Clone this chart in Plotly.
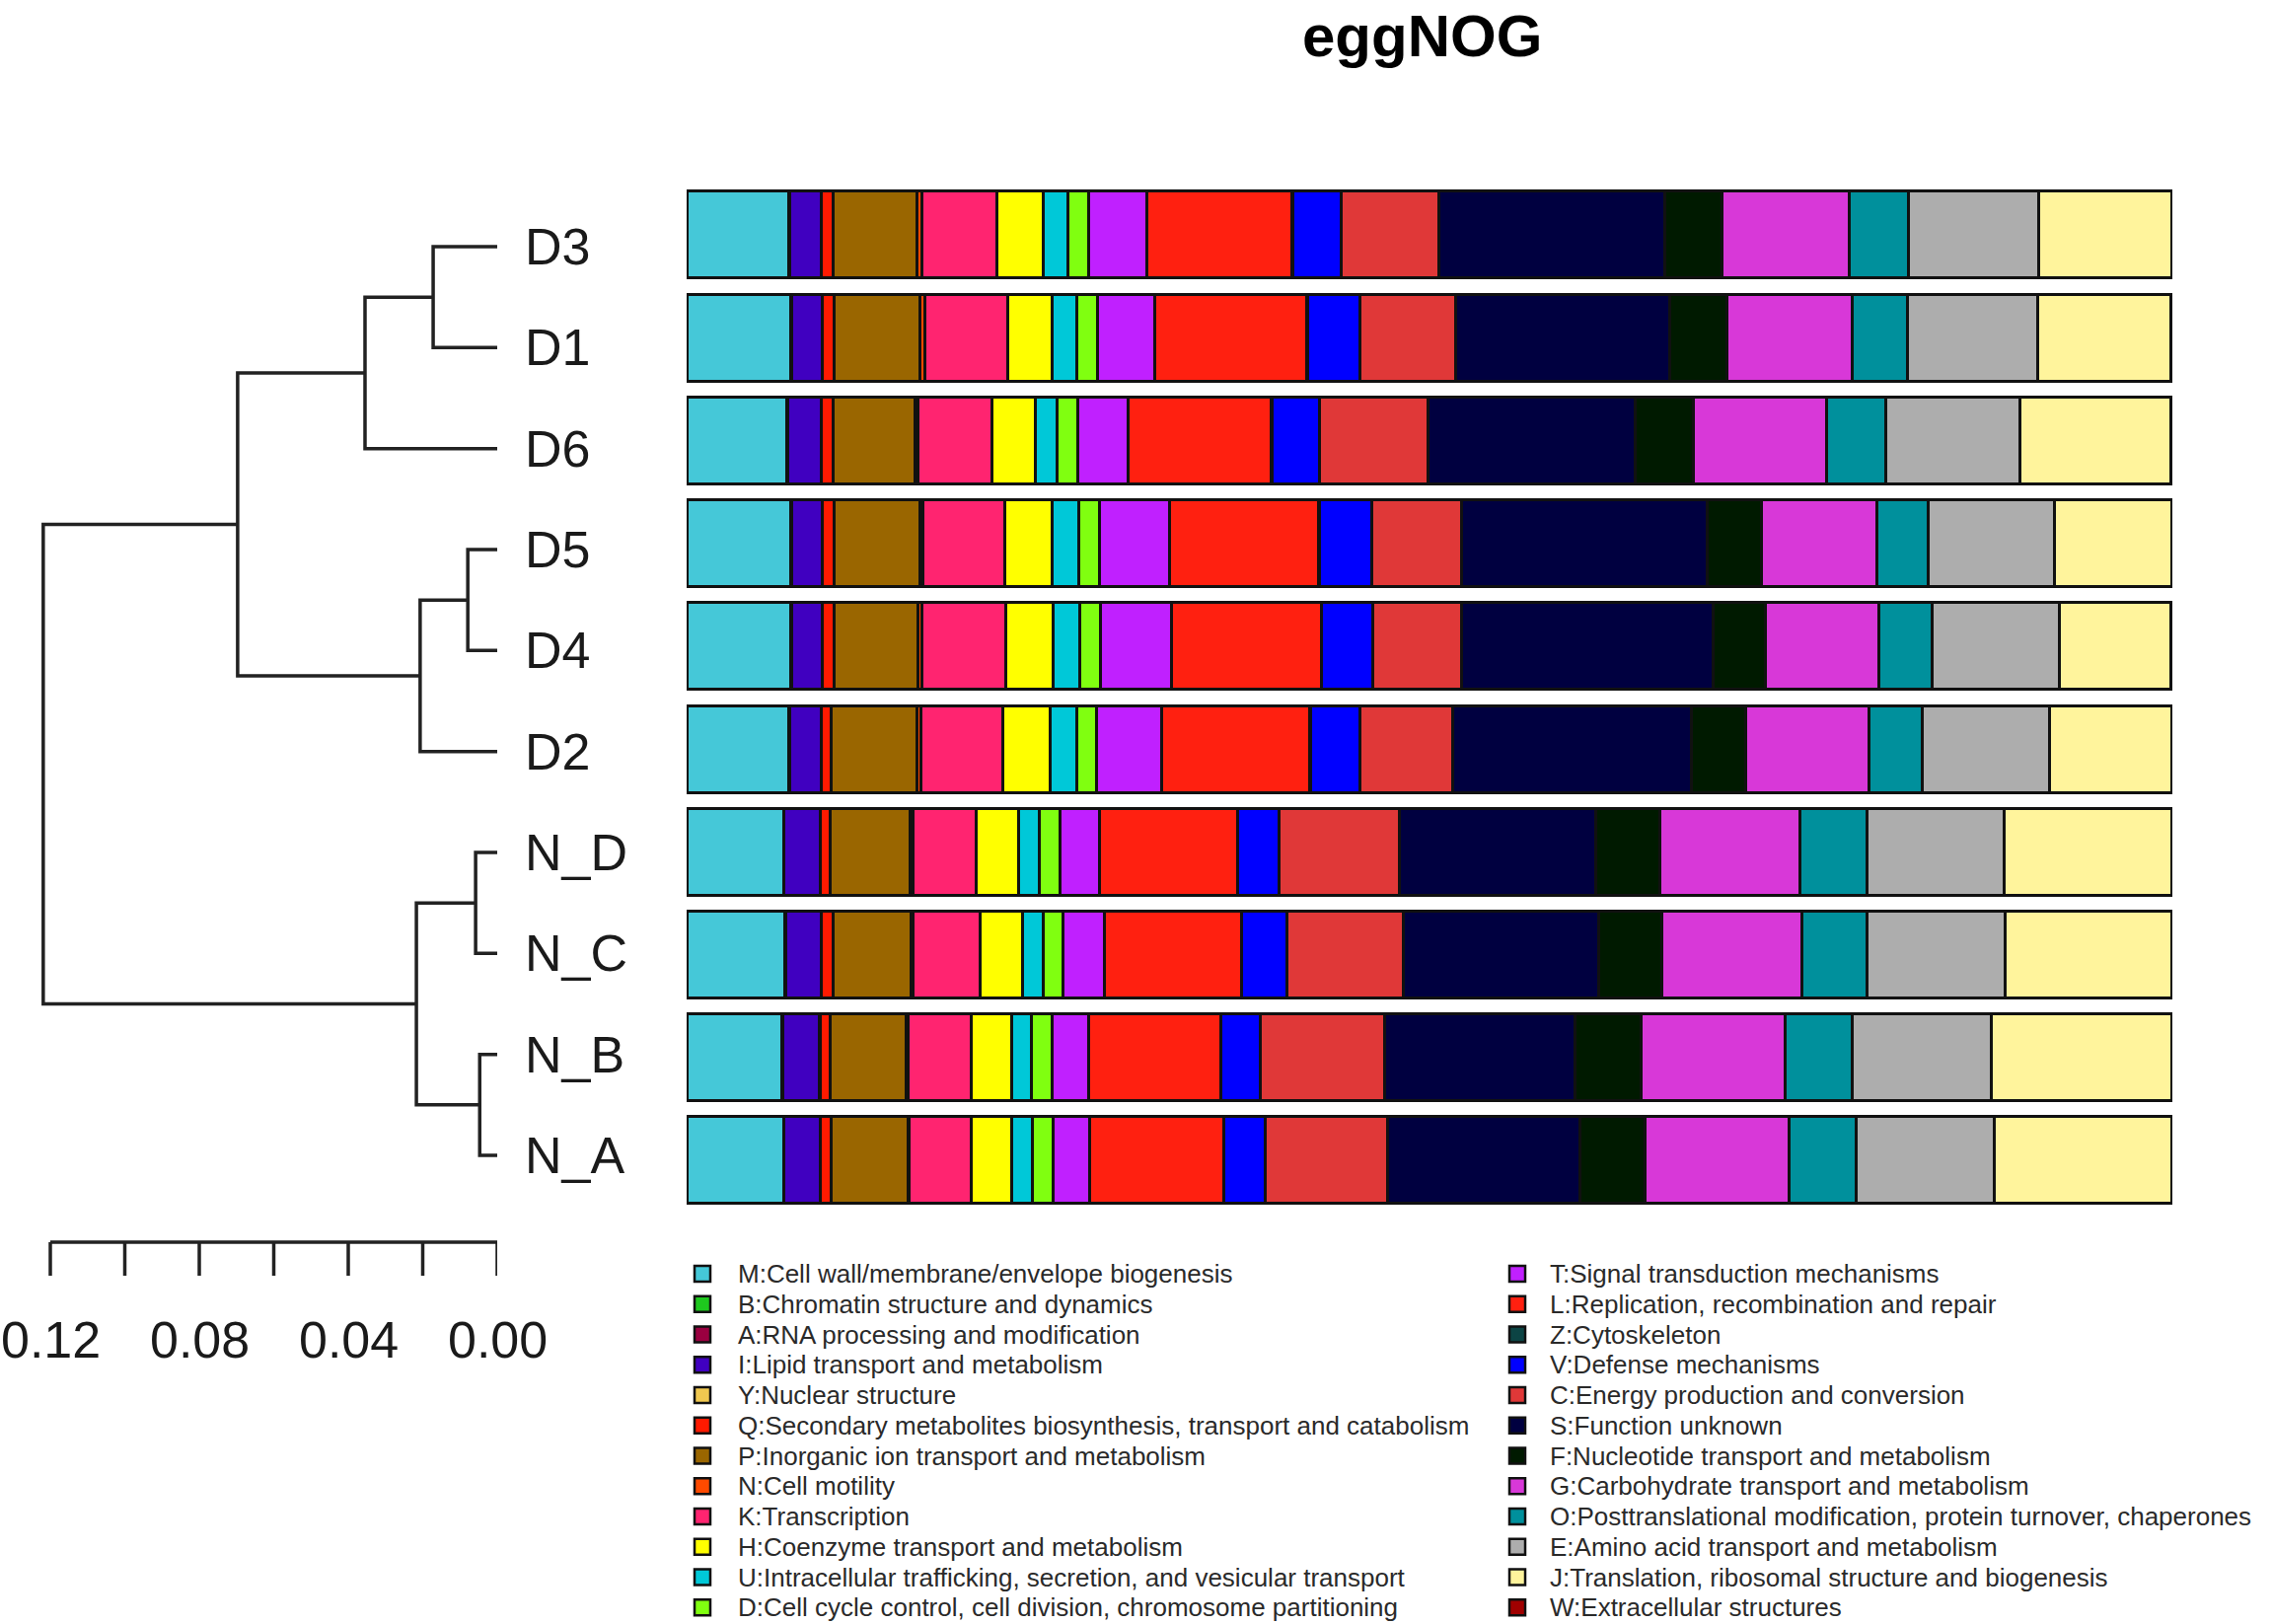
import plotly.graph_objects as go

W, H = 2303, 1646

# ---------------- data ----------------
samples = ["D3", "D1", "D6", "D5", "D4", "D2", "N_D", "N_C", "N_B", "N_A"]

categories = ["M", "B", "A", "I", "Y", "Q", "P", "N", "K", "H", "U", "D",
              "T", "L", "Z", "V", "C", "S", "F", "G", "O", "E", "J", "W"]

descriptions = [
    "M:Cell wall/membrane/envelope biogenesis",
    "B:Chromatin structure and dynamics",
    "A:RNA processing and modification",
    "I:Lipid transport and metabolism",
    "Y:Nuclear structure",
    "Q:Secondary metabolites biosynthesis, transport and catabolism",
    "P:Inorganic ion transport and metabolism",
    "N:Cell motility",
    "K:Transcription",
    "H:Coenzyme transport and metabolism",
    "U:Intracellular trafficking, secretion, and vesicular transport",
    "D:Cell cycle control, cell division, chromosome partitioning",
    "T:Signal transduction mechanisms",
    "L:Replication, recombination and repair",
    "Z:Cytoskeleton",
    "V:Defense mechanisms",
    "C:Energy production and conversion",
    "S:Function unknown",
    "F:Nucleotide transport and metabolism",
    "G:Carbohydrate transport and metabolism",
    "O:Posttranslational modification, protein turnover, chaperones",
    "E:Amino acid transport and metabolism",
    "J:Translation, ribosomal structure and biogenesis",
    "W:Extracellular structures",
]

colors = ["#45C8D8", "#1EC81E", "#9A0040", "#4000C0", "#F0C850", "#FF1A00",
          "#9A6600", "#FF4A00", "#FF2470", "#FFFF00", "#00C8D8", "#80FF10",
          "#C020FF", "#FF2010", "#0C4444", "#0000FF", "#E03838", "#000040",
          "#001A00", "#D838D8", "#00909C", "#ADADAD", "#FFF49C", "#A00000"]

# relative abundance (%) per sample, in category order
D3  = [6.87, 0.03, 0.02, 2.16, 0.01, 0.80, 5.67, 0.30, 5.03, 3.13, 1.67, 1.39, 3.96, 9.76, 0.04, 3.26, 6.63, 15.21, 3.84, 8.61, 3.94, 8.78, 8.99, 0.02]
D1  = [7.01, 0.03, 0.02, 2.08, 0.01, 0.80, 5.78, 0.30, 5.62, 2.99, 1.63, 1.42, 3.89, 10.21, 0.04, 3.54, 6.46, 14.45, 3.83, 8.44, 3.76, 8.78, 8.99, 0.02]
D6  = [6.77, 0.03, 0.02, 2.26, 0.01, 0.80, 5.48, 0.25, 4.93, 2.95, 1.49, 1.39, 3.37, 9.65, 0.04, 3.19, 7.36, 13.95, 3.90, 9.00, 3.97, 9.06, 10.21, 0.02]
D5  = [7.01, 0.03, 0.02, 2.08, 0.01, 0.76, 5.79, 0.25, 5.52, 3.16, 1.81, 1.39, 4.69, 10.07, 0.04, 3.57, 6.05, 16.54, 3.66, 7.78, 3.49, 8.47, 7.91, 0.02]
D4  = [7.01, 0.03, 0.02, 2.08, 0.01, 0.76, 5.69, 0.25, 5.66, 3.19, 1.81, 1.39, 4.79, 10.07, 0.04, 3.47, 5.98, 16.92, 3.55, 7.67, 3.55, 8.58, 7.56, 0.02]
D2  = [6.87, 0.03, 0.02, 2.16, 0.01, 0.62, 5.82, 0.25, 5.56, 3.19, 1.74, 1.39, 4.34, 10.00, 0.04, 3.37, 6.25, 16.08, 3.67, 8.29, 3.59, 8.61, 8.19, 0.02]
N_D = [6.53, 0.03, 0.02, 2.40, 0.01, 0.70, 5.40, 0.15, 4.28, 2.85, 1.39, 1.42, 2.68, 9.27, 0.04, 2.78, 8.09, 13.22, 4.36, 9.41, 4.53, 9.24, 11.33, 0.02]
N_C = [6.60, 0.03, 0.02, 2.43, 0.01, 0.76, 5.30, 0.12, 4.51, 2.84, 1.39, 1.39, 2.78, 9.20, 0.04, 3.02, 7.85, 13.22, 4.25, 9.42, 4.42, 9.28, 11.22, 0.02]
N_B = [6.42, 0.03, 0.02, 2.50, 0.01, 0.70, 5.12, 0.12, 4.24, 2.78, 1.28, 1.43, 2.43, 8.92, 0.04, 2.60, 8.41, 12.86, 4.46, 9.69, 4.50, 9.41, 12.13, 0.02]
N_A = [6.53, 0.03, 0.02, 2.43, 0.01, 0.70, 5.20, 0.08, 4.16, 2.78, 1.39, 1.39, 2.43, 9.03, 0.04, 2.78, 8.26, 12.93, 4.43, 9.69, 4.53, 9.30, 11.96, 0.02]

# hierarchical clustering merges: (child a, child b, height); ints refer to earlier merges
merges = [("D3", "D1", 0.0172), ("D5", "D4", 0.0079), ("N_D", "N_C", 0.0058),
          ("N_B", "N_A", 0.0047), (0, "D6", 0.0355), (1, "D2", 0.0207),
          (2, 3, 0.0217), (4, 5, 0.0697), (7, 6, 0.1219)]

scale_ticks = [0.0, 0.02, 0.04, 0.06, 0.08, 0.10, 0.12]
scale_labels = ["0.00", "", "0.04", "", "0.08", "", "0.12"]

# ---------------- figure ----------------
values = {"D3": D3, "D1": D1, "D6": D6, "D5": D5, "D4": D4, "D2": D2,
          "N_D": N_D, "N_C": N_C, "N_B": N_B, "N_A": N_A}
totals = [sum(values[s]) for s in samples]

FONT = "Liberation Sans, Arial, Helvetica, sans-serif"
INK = "#1a1a1a"

fig = go.Figure()

for j, cat in enumerate(categories):
    fig.add_trace(go.Bar(
        y=samples, x=[values[s][j] for s in samples], orientation="h",
        name=descriptions[j],
        marker=dict(color=colors[j], line=dict(color="#111111", width=3)),
        showlegend=False, hoverinfo="skip", xaxis="x", yaxis="y"))

# dendrogram
leaf_pos = {s: len(samples) - 1 - i for i, s in enumerate(samples)}
node_y, node_h = [], []


def where(ref):
    if isinstance(ref, str):
        return leaf_pos[ref], 0.0
    return node_y[ref], node_h[ref]


dx, dy = [], []
for a, b, h in merges:
    ya, ha = where(a)
    yb, hb = where(b)
    dx += [ha, h, h, hb, None]
    dy += [ya, ya, yb, yb, None]
    node_y.append((ya + yb) / 2)
    node_h.append(h)

fig.add_trace(go.Scatter(x=dx, y=dy, mode="lines",
                         line=dict(color="#222222", width=3.5),
                         xaxis="x2", yaxis="y2", showlegend=False,
                         hoverinfo="skip"))

# ---------------- layout geometry (pixels) ----------------
bar_left, bar_right = 696, 2202
bar_top_c, bar_bot_c = 238, 1176          # bar centres of first / last row
pitch_b = (bar_bot_c - bar_top_c) / 9
leaf_top_c, leaf_bot_c = 250, 1171
pitch_l = (leaf_bot_c - leaf_top_c) / 9
leaf_x = 504
px_per_unit = 3775.0

shapes = []
annotations = []

# scale bar for dendrogram
y_line = 1 - 1259 / H
y_tick = 1 - 1293 / H
shapes.append(dict(type="line", xref="x2", yref="paper", x0=max(scale_ticks), x1=0,
                   y0=y_line, y1=y_line, line=dict(color="#222222", width=3.5)))
for t, lab in zip(scale_ticks, scale_labels):
    shapes.append(dict(type="line", xref="x2", yref="paper", x0=t, x1=t,
                       y0=y_line, y1=y_tick, line=dict(color="#222222", width=3.5)))
    if lab:
        annotations.append(dict(text=lab, xref="x2", yref="paper", x=t, y=1 - 1358 / H,
                                xanchor="center", yanchor="middle", showarrow=False,
                                font=dict(family=FONT, size=52, color=INK)))

# sample labels
for s in samples:
    annotations.append(dict(text=s, xref="paper", yref="y2", x=530 / W, y=leaf_pos[s],
                            xanchor="left", yanchor="middle", showarrow=False,
                            font=dict(family=FONT, size=52, color=INK)))

# legend (two columns)
n_rows = 12
leg_y0, leg_pitch = 1291, 30.75
col_sq = [712, 1538]
col_tx = [746, 1569]
sq = 8
for j, desc in enumerate(descriptions):
    col, row = divmod(j, n_rows)
    yc = leg_y0 + row * leg_pitch
    shapes.append(dict(type="rect", xref="paper", yref="paper",
                       x0=(col_sq[col] - sq) / W, x1=(col_sq[col] + sq) / W,
                       y0=1 - (yc + sq) / H, y1=1 - (yc - sq) / H,
                       fillcolor=colors[j], line=dict(color="#111111", width=2.5)))
    annotations.append(dict(text=desc, xref="paper", yref="paper", x=col_tx[col] / W,
                            y=1 - yc / H, xanchor="left", yanchor="middle",
                            showarrow=False,
                            font=dict(family=FONT, size=26, color="#2a2a2a")))

# title
annotations.append(dict(text="<b>eggNOG</b>", xref="paper", yref="paper",
                        x=1441 / W, y=1 - 37 / H, xanchor="center", yanchor="middle",
                        showarrow=False, font=dict(family=FONT, size=60, color="#000000")))

fig.update_layout(
    width=W, height=H,
    margin=dict(l=0, r=0, t=0, b=0),
    paper_bgcolor="white", plot_bgcolor="white",
    barmode="stack", bargap=1 - 88 / pitch_b,
    showlegend=False,
    xaxis=dict(domain=[bar_left / W, bar_right / W], range=[0, max(totals)],
               visible=False, fixedrange=True),
    yaxis=dict(domain=[1 - (bar_bot_c + pitch_b / 2) / H, 1 - (bar_top_c - pitch_b / 2) / H],
               type="category", categoryorder="array", categoryarray=samples[::-1],
               range=[-0.5, 9.5], visible=False, fixedrange=True),
    xaxis2=dict(domain=[0, leaf_x / W], range=[leaf_x / px_per_unit, 0],
                anchor="y2", visible=False, fixedrange=True),
    yaxis2=dict(domain=[1 - (leaf_bot_c + pitch_l / 2) / H, 1 - (leaf_top_c - pitch_l / 2) / H],
                range=[-0.5, 9.5], anchor="x2", visible=False, fixedrange=True),
    shapes=shapes,
    annotations=annotations,
)

fig.write_html("out.html", config={"displayModeBar": False},
               post_script="document.body.style.margin='0';")
